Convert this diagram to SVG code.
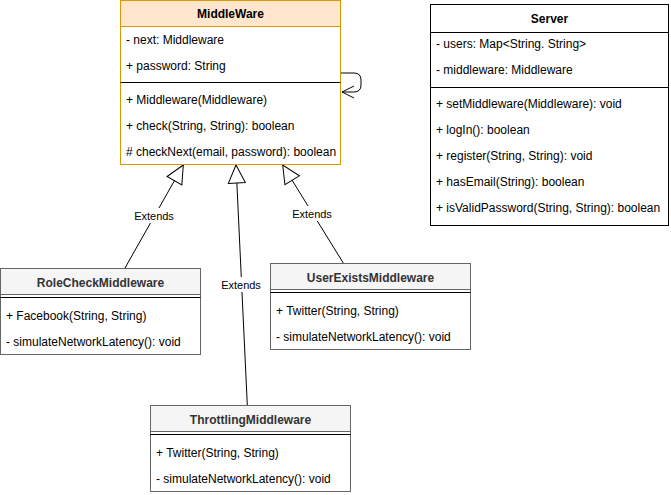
<svg xmlns="http://www.w3.org/2000/svg" width="671" height="495" viewBox="0 0 671 495">
<style>
text{font-family:"Liberation Sans",Arial,sans-serif;font-size:12px;fill:#000}
.h{font-weight:bold;text-anchor:middle}
.g{fill:#333333}
.lbl{font-size:11px;text-anchor:middle}
.edge{fill:none;stroke:#000;stroke-width:1}
.sub{fill:#fff;stroke:#666666}
.subh{fill:#f5f5f5;stroke:#666666}
</style>
<defs>
<marker id="ext" markerUnits="userSpaceOnUse" markerWidth="22" markerHeight="22" viewBox="-20 -11 22 22" refX="0" refY="0" orient="auto">
<path d="M0,0 L-18,-8.5 L-18,8.5 Z" fill="#fff" stroke="#000" stroke-width="1"/>
</marker>
</defs>
<rect width="671" height="495" fill="#fff"/>

<g id="connectors">
<path class="edge" d="M125,268 L183.3,165" marker-end="url(#ext)"/>
<path class="edge" d="M247.3,405 L236,165" marker-end="url(#ext)"/>
<path class="edge" d="M343.3,263 L282.7,165" marker-end="url(#ext)"/>
<path class="edge" d="M340.5,73 H354 Q361,73 361,80 V85 Q361,92 354,92 H342"/>
<path class="edge" d="M354,86 L342,92 L354,98"/>
<rect x="133" y="208" width="42" height="15" fill="#fff"/>
<text class="lbl" x="154" y="219.5">Extends</text>
<rect x="220" y="277" width="42" height="15" fill="#fff"/>
<text class="lbl" x="241" y="288.5">Extends</text>
<rect x="291" y="206" width="42" height="15" fill="#fff"/>
<text class="lbl" x="312" y="217.5">Extends</text>
</g>

<g id="MiddleWare">
<rect x="120.5" y="0.5" width="220" height="164" fill="#fff" stroke="#d79b00"/>
<rect x="120.5" y="0.5" width="220" height="26" fill="#ffe6cc" stroke="#d79b00"/>
<text class="h" x="230.5" y="18">MiddleWare</text>
<text x="126" y="44">- next: Middleware</text>
<text x="126" y="69.5">+ password: String</text>
<line x1="120.5" y1="82.5" x2="340.5" y2="82.5" stroke="#000"/>
<text x="126" y="104">+ Middleware(Middleware)</text>
<text x="126" y="130">+ check(String, String): boolean</text>
<text x="126" y="156">#  checkNext(email, password): boolean</text>
</g>

<g id="Server">
<rect x="430.5" y="4.5" width="238" height="221" fill="#fff" stroke="#000"/>
<line x1="430.5" y1="32.5" x2="668.5" y2="32.5" stroke="#000"/>
<text class="h" x="549.5" y="23">Server</text>
<text x="436" y="48">- users: Map&lt;String. String&gt;</text>
<text x="436" y="74">- middleware: Middleware</text>
<line x1="430.5" y1="87.5" x2="668.5" y2="87.5" stroke="#000"/>
<text x="436" y="108">+ setMiddleware(Middleware): void</text>
<text x="436" y="134">+ logIn(): boolean</text>
<text x="436" y="160">+ register(String, String): void</text>
<text x="436" y="186">+ hasEmail(String): boolean</text>
<text x="436" y="212">+ isValidPassword(String, String): boolean</text>
</g>

<g id="RoleCheckMiddleware">
<rect class="sub" x="0.5" y="268.5" width="200" height="86"/>
<rect class="subh" x="0.5" y="268.5" width="200" height="26"/>
<line x1="0.5" y1="297.5" x2="200.5" y2="297.5" stroke="#000"/>
<text class="h g" x="100.5" y="287">RoleCheckMiddleware</text>
<text x="6" y="319.5">+ Facebook(String, String)</text>
<text x="6" y="346">- simulateNetworkLatency(): void</text>
</g>

<g id="UserExistsMiddleware">
<rect class="sub" x="270.5" y="263.5" width="200" height="86"/>
<rect class="subh" x="270.5" y="263.5" width="200" height="26"/>
<line x1="270.5" y1="292.5" x2="470.5" y2="292.5" stroke="#000"/>
<text class="h g" x="370.5" y="282">UserExistsMiddleware</text>
<text x="276" y="315">+ Twitter(String, String)</text>
<text x="276" y="340.5">- simulateNetworkLatency(): void</text>
</g>

<g id="ThrottlingMiddleware">
<rect class="sub" x="150.5" y="405.5" width="200" height="86"/>
<rect class="subh" x="150.5" y="405.5" width="200" height="26"/>
<line x1="150.5" y1="434.5" x2="350.5" y2="434.5" stroke="#000"/>
<text class="h g" x="250.5" y="424">ThrottlingMiddleware</text>
<text x="156" y="456.5">+ Twitter(String, String)</text>
<text x="156" y="483">- simulateNetworkLatency(): void</text>
</g>
</svg>
